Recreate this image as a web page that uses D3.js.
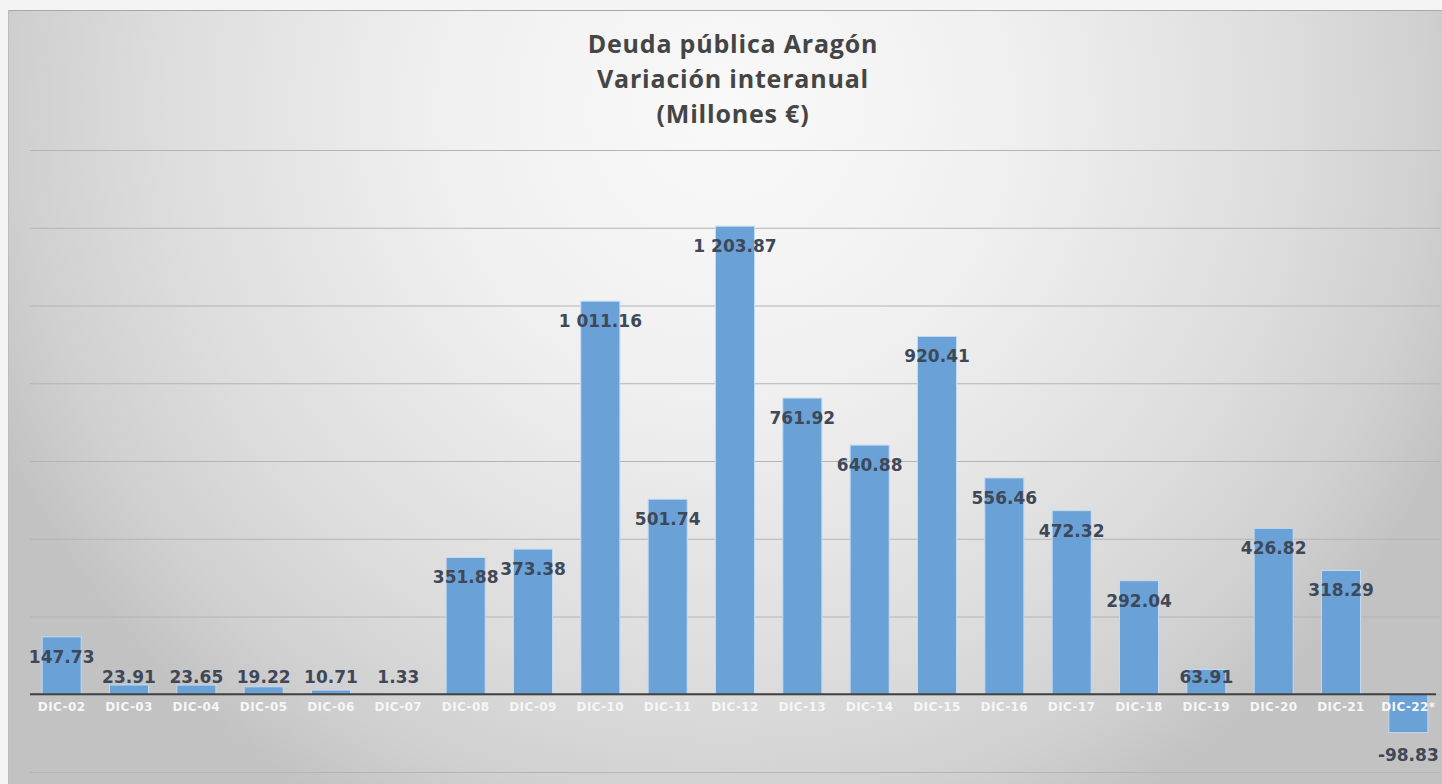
<!DOCTYPE html>
<html>
<head>
<meta charset="utf-8">
<script src="https://cdn.jsdelivr.net/npm/d3@7"></script>
<style>
  html, body { margin: 0; padding: 0; background: #f4f4f4; }
  svg { display: block; }
</style>
</head>
<body>
<script>
var categories = ["DIC-02","DIC-03","DIC-04","DIC-05","DIC-06","DIC-07","DIC-08","DIC-09","DIC-10","DIC-11",
                  "DIC-12","DIC-13","DIC-14","DIC-15","DIC-16","DIC-17","DIC-18","DIC-19","DIC-20","DIC-21","DIC-22*"];
var values = [147.73, 23.91, 23.65, 19.22, 10.71, 1.33, 351.88, 373.38, 1011.16, 501.74,
              1203.87, 761.92, 640.88, 920.41, 556.46, 472.32, 292.04, 63.91, 426.82, 318.29, -98.83];
var gridValues = [-200, 0, 200, 400, 600, 800, 1000, 1200, 1400];
var titleLines = ["Deuda pública Aragón", "Variación interanual", "(Millones €)"];

var W = 1442, H = 784;
var svg = d3.select("body")
    .append("svg")
    .attr("width", W)
    .attr("height", H);

var defs = svg.append("defs");
var grad = defs.append("radialGradient")
    .attr("id", "bg")
    .attr("gradientUnits", "userSpaceOnUse")
    .attr("cx", 725).attr("cy", 110).attr("r", 800);
grad.append("stop").attr("offset", "0%").attr("stop-color", "#f9f9f9");
grad.append("stop").attr("offset", "35%").attr("stop-color", "#f0f0f0");
grad.append("stop").attr("offset", "70%").attr("stop-color", "#dddddd");
grad.append("stop").attr("offset", "88%").attr("stop-color", "#d0d0d0");
grad.append("stop").attr("offset", "100%").attr("stop-color", "#c2c2c2");

// panel
svg.append("rect")
    .attr("x", 8).attr("y", 10)
    .attr("width", W - 8).attr("height", H - 10)
    .attr("fill", "url(#bg)");
svg.append("line")
    .attr("x1", 8).attr("x2", W).attr("y1", 10.5).attr("y2", 10.5)
    .attr("stroke", "#a8a8a8").attr("stroke-width", 1);
svg.append("line")
    .attr("x1", 8.5).attr("x2", 8.5).attr("y1", 10).attr("y2", H)
    .attr("stroke", "#bcbcbc").attr("stroke-width", 1);

var x = d3.scaleBand()
    .domain(categories)
    .range([28, 1442])
    .paddingInner(0.42)
    .paddingOuter(0.21);

var y = d3.scaleLinear()
    .domain([-200, 1400])
    .range([772, 150]);

var fmtLocale = d3.formatLocale({decimal: ".", thousands: " ", grouping: [3], currency: ["", ""], minus: "-"});
var fmt = fmtLocale.format(",.2f");

// gridlines
var yAxis = d3.axisRight(y)
    .tickValues(gridValues)
    .tickSize(1410)
    .tickFormat("");

svg.append("g")
    .attr("transform", "translate(30,0)")
    .call(yAxis)
    .call(function(g) {
        g.select(".domain").remove();
        g.selectAll(".tick line").attr("stroke", "#b4b4b4").attr("stroke-width", 1);
    });

// bars
svg.append("g")
    .selectAll("rect")
    .data(values)
    .enter()
    .append("rect")
    .attr("x", function(d, i) { return x(categories[i]); })
    .attr("y", function(d) { return y(Math.max(0, d)); })
    .attr("width", x.bandwidth())
    .attr("height", function(d) { return Math.abs(y(d) - y(0)); })
    .attr("fill", "#6aa2d7")
    .attr("stroke", "#c3dcf2")
    .attr("stroke-width", 1);

// zero line
svg.append("line")
    .attr("x1", 30).attr("x2", 1436)
    .attr("y1", y(0)).attr("y2", y(0))
    .attr("stroke", "#404040").attr("stroke-width", 2);

// category labels
var xAxis = d3.axisBottom(x).tickSize(0).tickPadding(0);
svg.append("g")
    .attr("transform", "translate(0," + (y(0) + 13) + ")")
    .call(xAxis)
    .call(function(g) {
        g.select(".domain").remove();
        g.selectAll(".tick text")
            .attr("y", 0)
            .attr("dy", "0.35em")
            .attr("fill", "#f6f6f6")
            .style("font-family", "'DejaVu Sans', Verdana, sans-serif")
            .style("font-weight", "bold")
            .style("font-size", "12px")
            .style("letter-spacing", "0.4px");
    });

// data labels
svg.append("g")
    .selectAll("text")
    .data(values)
    .enter()
    .append("text")
    .attr("x", function(d, i) { return x(categories[i]) + x.bandwidth() / 2; })
    .attr("y", function(d) {
        if (d < 0) return y(d) + 22;
        return Math.min(y(d) + 20, y(0) - 17);
    })
    .attr("dy", "0.35em")
    .attr("text-anchor", "middle")
    .attr("fill", "#3e4858")
    .style("font-family", "'DejaVu Sans', Verdana, sans-serif")
    .style("font-weight", "bold")
    .style("font-size", "17px")
    .text(function(d) { return fmt(d); });

// title
svg.append("g")
    .selectAll("text")
    .data(titleLines)
    .enter()
    .append("text")
    .attr("x", 733)
    .attr("y", function(d, i) { return 53 + i * 35; })
    .attr("text-anchor", "middle")
    .attr("fill", "#454545")
    .style("font-family", "'Open Sans', sans-serif")
    .style("font-weight", "bold")
    .style("font-size", "25px")
    .style("letter-spacing", "0.8px")
    .text(function(d) { return d; });
</script>
</body>
</html>
